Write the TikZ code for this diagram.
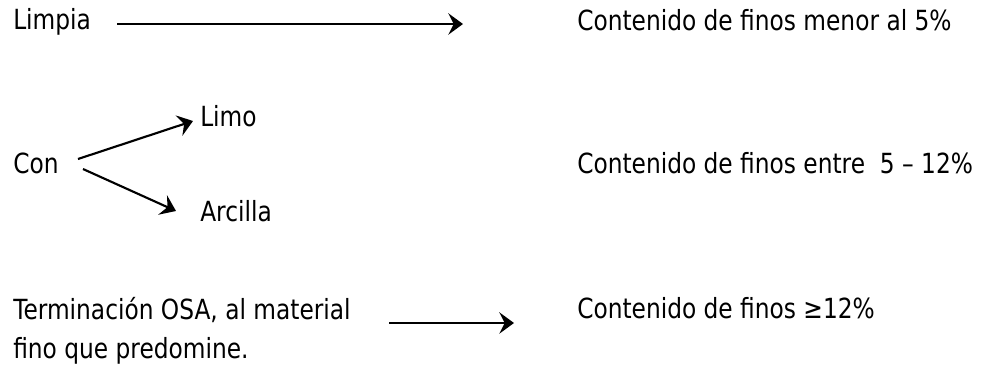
\documentclass[tikz,border=0pt]{standalone}
\usepackage{fontspec}
\setmainfont[FakeStretch=0.84]{DejaVu Sans}
\usetikzlibrary{arrows.meta}

\begin{document}
\begin{tikzpicture}[x=0.75pt,y=0.75pt,yscale=-1,xscale=1,
  txt/.style={anchor=base west,inner sep=0pt,font=\fontsize{20.8}{29.25}\selectfont,align=left},
  flecha/.style={line width=1.6pt,-{Stealth[length=11pt,width=16pt,inset=4pt]}}]
\useasboundingbox (0,0) rectangle (988,375);

% Text Node
\node [txt] (limpia) at (13,29) {Limpia};
% Text Node
\node [txt] (menor) at (577,30) {Contenido de finos menor al 5\%};
% Text Node
\node [txt] (limo) at (200,126) {Limo};
% Text Node
\node [txt] (con) at (13,173) {Con};
% Text Node
\node [txt] (entre) at (577,173) {Contenido de finos entre~~5 – 12\%};
% Text Node
\node [txt] (arcilla) at (200,221) {Arcilla};
% Text Node
\node [txt] (osa) at (13,358) {Terminación OSA, al material\\fino que predomine.};
% Text Node
\node [txt] (mayor) at (577,318) {Contenido de finos ≥12\%};

%Straight Lines
\coordinate (l1) at (117,24);
\coordinate (l2) at (463,24);
\draw [flecha] (l1) -- (l2);
%Straight Lines
\coordinate (c1) at (78,159);
\coordinate (c2) at (193,121);
\draw [flecha] (c1) -- (c2);
%Straight Lines
\coordinate (c3) at (83,169);
\coordinate (c4) at (176,211);
\draw [flecha] (c3) -- (c4);
%Straight Lines
\coordinate (o1) at (389,323);
\coordinate (o2) at (514,323);
\draw [flecha] (o1) -- (o2);

\end{tikzpicture}
\end{document}
